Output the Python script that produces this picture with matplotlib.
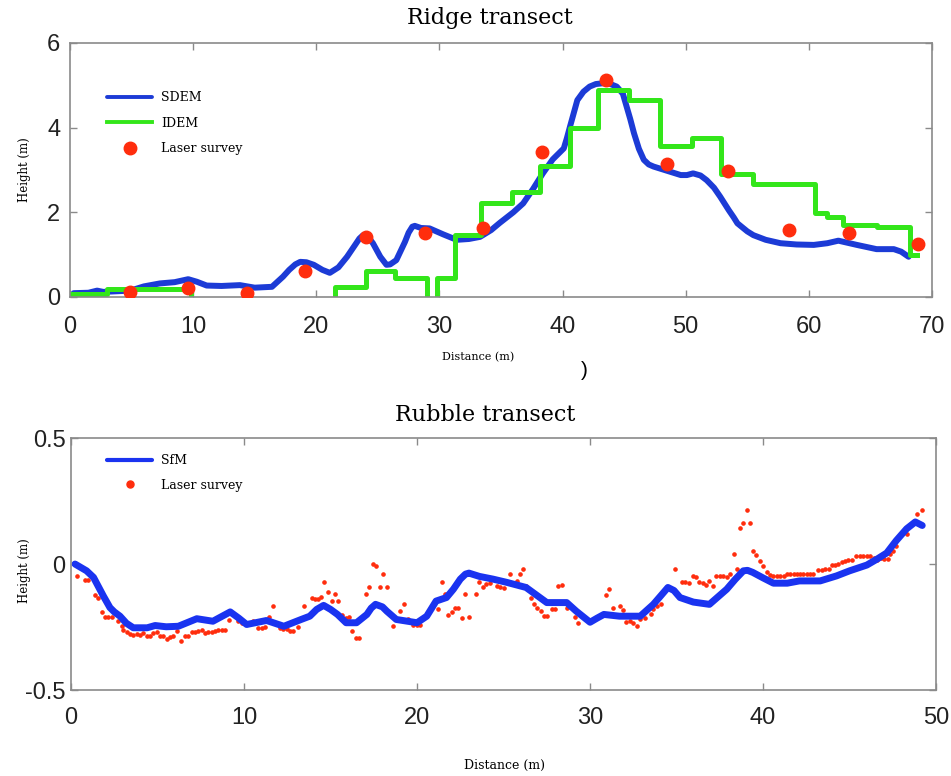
import matplotlib.pyplot as plt

# Ridge transect data
sdem_x = [0.3, 1.5, 2.2, 2.7, 4.9, 6.0, 7.3, 8.5, 9.6, 10.3, 11.1, 12.3, 13.8, 15.0, 16.4,
          17.3, 17.8, 18.3, 18.7, 19.2, 19.8, 20.5, 21.1, 21.8, 22.5, 23.2, 23.5, 23.8, 24.2,
          24.6, 25.2, 25.7, 26.0, 26.5, 27.2, 27.5, 27.8, 28.0, 28.5, 29.2, 30.3, 31.4, 32.4,
          33.3, 34.2, 34.9, 36.0, 36.8, 37.6, 38.4, 39.2, 40.1, 40.35, 40.6, 41.2, 41.7, 42.2,
          42.7, 43.3, 43.8, 44.4, 44.9, 45.2, 45.5, 45.8, 46.2, 46.6, 47.0, 47.4, 48.5, 49.6,
          50.1, 50.6, 51.2, 51.7, 52.3, 52.8, 53.5, 53.9, 54.2, 55.0, 55.5, 56.5, 57.7, 59.0,
          60.4, 61.5, 62.4, 63.9, 65.5, 66.9, 67.5, 68.1]
sdem_y = [0.09, 0.10, 0.15, 0.12, 0.15, 0.25, 0.32, 0.35, 0.42, 0.36, 0.27, 0.26, 0.28, 0.22, 0.24,
          0.48, 0.64, 0.77, 0.83, 0.82, 0.76, 0.64, 0.57, 0.70, 0.95, 1.25, 1.38, 1.46, 1.42,
          1.27, 0.95, 0.76, 0.77, 0.87, 1.30, 1.52, 1.66, 1.68, 1.63, 1.62, 1.48, 1.35, 1.37,
          1.42, 1.58, 1.75, 2.00, 2.21, 2.55, 2.92, 3.25, 3.51, 3.75, 4.02, 4.65, 4.85, 4.97,
          5.03, 5.05, 5.04, 4.97, 4.80, 4.50, 4.20, 3.87, 3.50, 3.24, 3.13, 3.08, 2.98, 2.88,
          2.88, 2.92, 2.87, 2.76, 2.58, 2.37, 2.05, 1.88, 1.74, 1.55, 1.46, 1.35, 1.27, 1.24,
          1.23, 1.27, 1.33, 1.23, 1.13, 1.13, 1.07, 0.95]

# IDEM is a step profile (value holds until next x)
idem_x = [0.0, 3.0, 9.8, 21.5, 24.0, 26.4, 29.0, 29.8, 31.3, 33.4, 35.9, 38.2, 40.6, 42.9,
          45.4, 47.9, 50.5, 52.9, 55.5, 60.5, 61.5, 62.8, 65.5, 68.2, 68.8]
idem_y = [0.08, 0.20, -1.0, 0.24, 0.62, 0.46, -1.0, 0.46, 1.46, 2.21, 2.49, 3.09, 3.98, 4.89,
          4.65, 3.57, 3.75, 2.91, 2.67, 1.98, 1.90, 1.70, 1.66, 0.99, 0.99]

laser_x = [4.9, 9.6, 14.4, 19.1, 24.0, 28.8, 33.5, 38.3, 43.5, 48.5, 53.4, 58.4, 63.3, 68.9]
laser_y = [0.12, 0.22, 0.09, 0.62, 1.41, 1.50, 1.62, 3.42, 5.13, 3.13, 2.97, 1.58, 1.50, 1.25]

# Rubble transect data
sfm_x = [0.23, 0.9, 1.3, 1.87, 2.25, 2.5, 2.83, 3.2, 3.6, 4.4, 4.86, 5.5, 6.2, 7.27, 8.2,
         9.2, 9.7, 10.15, 11.3, 12.3, 13.3, 13.8, 14.2, 14.6, 15.0, 15.4, 15.9, 16.5, 17.1,
         17.35, 17.6, 18.0, 18.25, 18.8, 20.0, 20.56, 21.1, 21.4, 21.7, 22.1, 22.5, 22.8, 23.0,
         23.6, 24.4, 25.2, 26.3, 27.5, 28.65, 29.2, 30.0, 30.4, 30.8, 31.7, 32.9, 33.66,
         34.1, 34.5, 34.85, 35.2, 35.97, 36.9, 37.9, 38.4, 38.86, 39.1, 39.4, 40.0, 40.6,
         41.4, 42.1, 43.3, 44.25, 45.0, 46.0, 46.6, 47.15, 47.7, 48.3, 48.8, 49.2]
sfm_y = [0.0, -0.027, -0.053, -0.127, -0.173, -0.19, -0.207, -0.235, -0.253, -0.253, -0.244,
         -0.249, -0.247, -0.217, -0.227, -0.19, -0.215, -0.24, -0.224, -0.247, -0.22, -0.207,
         -0.18, -0.164, -0.18, -0.2, -0.233, -0.233, -0.2, -0.175, -0.16, -0.17, -0.187,
         -0.22, -0.233, -0.207, -0.147, -0.14, -0.133, -0.1, -0.06, -0.04, -0.036, -0.049,
         -0.06, -0.073, -0.093, -0.153, -0.153, -0.187, -0.231, -0.215, -0.2, -0.207, -0.207,
         -0.16, -0.125, -0.093, -0.105, -0.133, -0.151, -0.16, -0.1, -0.06, -0.027, -0.025,
         -0.033, -0.055, -0.076, -0.076, -0.067, -0.067, -0.047, -0.027, -0.004, 0.02, 0.044,
         0.093, 0.14, 0.167, 0.153]

rubble_laser_x = [0.36, 0.81, 1.0, 1.39, 1.58, 1.77, 1.97, 2.16, 2.35, 2.73, 2.93, 3.02, 3.22,
                  3.41, 3.6, 3.8, 3.99, 4.18, 4.37, 4.57, 4.76, 4.95, 5.14, 5.34, 5.53, 5.72,
                  5.91, 6.1, 6.34, 6.59, 6.78, 6.97, 7.17, 7.36, 7.55, 7.75, 7.94, 8.13, 8.32,
                  8.51, 8.71, 8.9, 9.15, 9.67, 9.86, 10.5, 10.83, 11.02, 11.2, 11.46, 11.69,
                  12.08, 12.27, 12.47, 12.66, 12.85, 13.1, 13.49, 13.91, 14.1, 14.3, 14.45,
                  14.64, 14.87, 15.07, 15.26, 15.45, 15.68, 15.88, 16.07, 16.26, 16.45, 16.65,
                  17.05, 17.24, 17.44, 17.63, 17.86, 18.02, 18.25, 18.63, 19.0, 19.23, 19.5,
                  19.79, 19.98, 20.17, 21.2, 21.43, 21.62, 21.81, 22.0, 22.2, 22.39, 22.62,
                  22.77, 23.0, 23.39, 23.58, 23.83, 24.0, 24.2, 24.6, 24.8, 25.0, 25.4, 25.76,
                  25.95, 26.1, 26.3, 26.57, 26.76, 26.95, 27.15, 27.34, 27.53, 27.79, 27.98,
                  28.17, 28.36, 28.65, 29.13, 29.32, 30.92, 31.1, 31.35, 31.73, 31.93, 32.1,
                  32.3, 32.5, 32.7, 32.9, 33.2, 33.5, 33.66, 33.85, 34.1, 34.9, 35.3, 35.5,
                  35.7, 35.93, 36.1, 36.3, 36.5, 36.7, 36.9, 37.1, 37.3, 37.5, 37.7, 37.9,
                  38.1, 38.3, 38.48, 38.67, 38.86, 39.06, 39.25, 39.44, 39.6, 39.8, 40.0, 40.2,
                  40.4, 40.6, 40.8, 41.0, 41.2, 41.37, 41.56, 41.76, 41.95, 42.14, 42.33,
                  42.53, 42.72, 42.91, 43.2, 43.4, 43.6, 43.8, 43.97, 44.16, 44.36, 44.55,
                  44.74, 44.93, 45.13, 45.4, 45.6, 45.8, 46.0, 46.2, 46.4, 46.6, 46.8, 46.98,
                  47.2, 47.35, 47.5, 47.7, 48.3, 48.9, 49.2]
rubble_laser_y = [-0.049, -0.063, -0.063, -0.124, -0.133, -0.191, -0.209, -0.209, -0.209,
                  -0.227, -0.244, -0.26, -0.271, -0.276, -0.28, -0.277, -0.28, -0.273, -0.287,
                  -0.287, -0.273, -0.271, -0.287, -0.287, -0.296, -0.289, -0.284, -0.267,
                  -0.304, -0.287, -0.284, -0.271, -0.268, -0.267, -0.26, -0.273, -0.271,
                  -0.271, -0.267, -0.26, -0.26, -0.263, -0.223, -0.227, -0.233, -0.227,
                  -0.253, -0.253, -0.249, -0.209, -0.167, -0.253, -0.257, -0.257, -0.267,
                  -0.267, -0.249, -0.167, -0.133, -0.137, -0.137, -0.129, -0.071, -0.111,
                  -0.147, -0.12, -0.147, -0.204, -0.213, -0.209, -0.267, -0.293, -0.293,
                  -0.12, -0.091, 0.0, -0.009, -0.091, -0.04, -0.091, -0.244, -0.187, -0.16,
                  -0.22, -0.24, -0.24, -0.24, -0.18, -0.071, -0.12, -0.204, -0.191, -0.173,
                  -0.173, -0.213, -0.12, -0.209, -0.12, -0.071, -0.091, -0.08, -0.077, -0.089,
                  -0.093, -0.097, -0.04, -0.067, -0.04, -0.02, -0.087, -0.133, -0.16, -0.173,
                  -0.187, -0.207, -0.207, -0.18, -0.177, -0.089, -0.084, -0.173, -0.209,
                  -0.236, -0.124, -0.1, -0.173, -0.167, -0.183, -0.231, -0.227, -0.233,
                  -0.244, -0.22, -0.213, -0.2, -0.18, -0.167, -0.16, -0.02, -0.071, -0.071,
                  -0.076, -0.049, -0.053, -0.071, -0.076, -0.084, -0.067, -0.087, -0.049,
                  -0.049, -0.049, -0.053, -0.04, 0.04, -0.02, 0.143, 0.164, 0.213, 0.164,
                  0.053, 0.036, 0.013, -0.007, -0.031, -0.044, -0.049, -0.049, -0.049, -0.049,
                  -0.04, -0.04, -0.04, -0.04, -0.04, -0.04, -0.04, -0.04, -0.04,
                  -0.023, -0.023, -0.02, -0.02, -0.004, -0.004, 0.0, 0.007, 0.013, 0.018,
                  0.018, 0.031, 0.031, 0.031, 0.031, 0.031, 0.024, 0.018, 0.024, 0.02, 0.02,
                  0.04, 0.053, 0.073, 0.12, 0.2, 0.213]

red = '#ff2d0d'
green = '#33e61a'
sans = 'Liberation Sans'
serif = 'DejaVu Serif'

fig = plt.figure(figsize=(9.51, 7.76), dpi=100)


def style_axes(ax):
    for s in ax.spines.values():
        s.set_color('#8a8a8a')
        s.set_linewidth(1.2)
    ax.tick_params(direction='in', length=5, width=1, colors='#8a8a8a',
                   top=True, right=True, labelsize=17, labelcolor='#222222')
    for lbl in ax.get_xticklabels() + ax.get_yticklabels():
        lbl.set_family(sans)


# Top panel - ridge transect
ax1 = fig.add_axes([0.0736, 0.6173, 0.9064, 0.3273])
ax1.plot(sdem_x, sdem_y, color='#1c3bd6', lw=4.3, label='SDEM',
         solid_joinstyle='round', solid_capstyle='round')
ax1.plot(idem_x, idem_y, color=green, lw=3.6, drawstyle='steps-post', label='IDEM')
ax1.plot(laser_x, laser_y, 'o', color=red, ms=9, label='Laser survey', zorder=5)
ax1.set_xlim(0, 70)
ax1.set_ylim(0, 6)
ax1.set_xticks(range(0, 71, 10))
ax1.set_yticks([0, 2, 4, 6])
style_axes(ax1)
ax1.tick_params(axis='x', pad=14)
ax1.tick_params(axis='y', pad=7)
leg1 = ax1.legend(loc='upper left', bbox_to_anchor=(0.043, 0.81), frameon=False,
                  borderaxespad=0, borderpad=0, handlelength=3.6, handletextpad=0.7,
                  labelspacing=1.0, prop={'family': serif, 'size': 9})
for ln in leg1.get_lines()[:2]:
    ln.set_linewidth(2.8)

# Bottom panel - rubble transect
ax2 = fig.add_axes([0.0747, 0.1108, 0.9096, 0.3247])
ax2.plot(sfm_x, sfm_y, color='#1a33f0', lw=5, label='SfM',
         solid_joinstyle='round', solid_capstyle='round')
ax2.plot(rubble_laser_x, rubble_laser_y, 'o', color=red, ms=2.3, label='Laser survey', zorder=1)
ax2.set_xlim(0, 50)
ax2.set_ylim(-0.5, 0.5)
ax2.set_xticks(range(0, 51, 10))
ax2.set_yticks([-0.5, 0, 0.5])
ax2.set_yticklabels(['-0.5', '0', '0.5'])
style_axes(ax2)
ax2.tick_params(axis='x', pad=12)
ax2.tick_params(axis='y', pad=4)
leg2 = ax2.legend(loc='upper left', bbox_to_anchor=(0.042, 0.935), frameon=False,
                  borderaxespad=0, borderpad=0, handlelength=3.6, handletextpad=0.7,
                  labelspacing=0.9, markerscale=2.2, prop={'family': serif, 'size': 9})
leg2.get_lines()[0].set_linewidth(3.0)

# Titles and axis labels
fig.text(0.515, 0.977, 'Ridge transect', ha='center', va='center', family=serif, fontsize=16)
fig.text(0.51, 0.465, 'Rubble transect', ha='center', va='center', family=serif, fontsize=16)
fig.text(0.503, 0.54, 'Distance (m)', ha='center', va='center', family=serif, fontsize=8)
fig.text(0.531, 0.014, 'Distance (m)', ha='center', va='center', family=serif, fontsize=9)
fig.text(0.615, 0.522, ')', ha='center', va='center', family=sans, fontsize=15)
fig.text(0.026, 0.781, 'Height (m)', rotation=90, ha='center', va='center', family=serif, fontsize=8.5)
fig.text(0.026, 0.265, 'Height (m)', rotation=90, ha='center', va='center', family=serif, fontsize=8.5)

plt.savefig('out.png', dpi=100)
